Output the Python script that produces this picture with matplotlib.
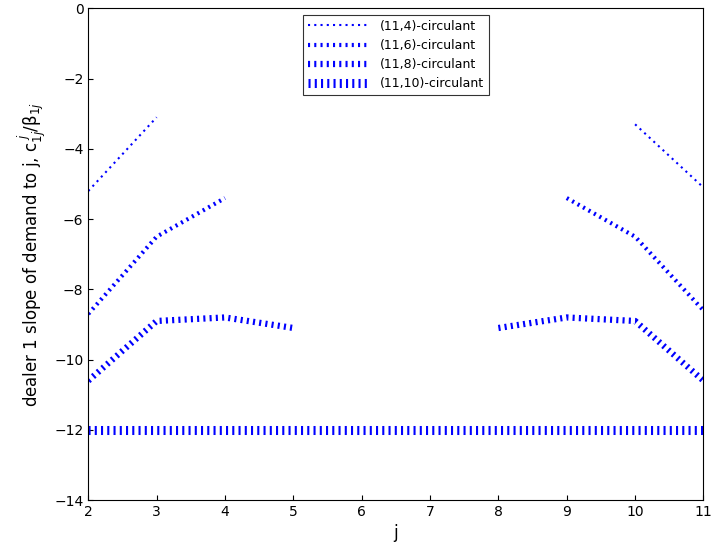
import matplotlib.pyplot as plt
import numpy as np

j = np.arange(2, 12)
nan = np.nan
series = {
    "(11,4)-circulant": [-5.2, -3.1, nan, nan, nan, nan, nan, nan, -3.3, -5.1],
    "(11,6)-circulant": [-8.7, -6.5, -5.4, nan, nan, nan, nan, -5.4, -6.5, -8.6],
    "(11,8)-circulant": [-10.6, -8.9, -8.8, -9.1, nan, nan, -9.1, -8.8, -8.9, -10.6],
    "(11,10)-circulant": [-12, -12, -12, -12, -12, -12, -12, -12, -12, -12],
}
widths = [1.5, 3.0, 4.5, 6.5]

fig = plt.figure(figsize=(7.12, 5.6), dpi=100)
ax = fig.add_axes([0.124, 0.107, 0.864, 0.878])
for (name, vals), lw in zip(series.items(), widths):
    ax.plot(j, vals, color="blue", lw=lw, linestyle=(0, (1.5 / lw, 3.0 / lw)),
            dash_capstyle="butt", label=name)

ax.set_xlim(2, 11)
ax.set_ylim(-14, 0)
ax.set_xticks(range(2, 12))
ax.set_yticks(range(-14, 1, 2))
ax.tick_params(direction="in", labelsize=10)
ax.set_xlabel("j", fontsize=12)
ax.set_ylabel(r"dealer 1 slope of demand to j, c$^{\ j}_{1j}$/β$_{1j}$", fontsize=12)
leg = ax.legend(loc="upper center", bbox_to_anchor=(0.5, 1.0), fontsize=9,
                fancybox=False, edgecolor="black", handlelength=5)
leg.get_frame().set_linewidth(0.8)
fig.savefig("out.png", dpi=100)
